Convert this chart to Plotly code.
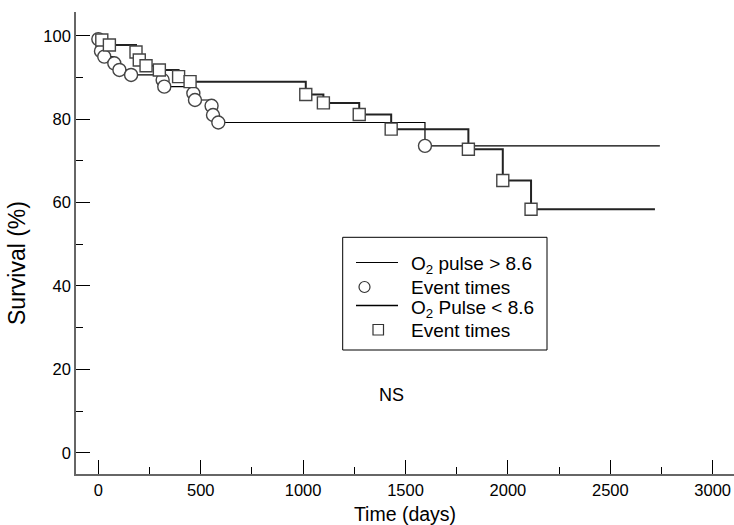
import plotly.graph_objects as go

# ---------------- data ----------------
# Group 1: O2 pulse > 8.6  (thin line, circles at event times)
g1_times = [0, 13, 29, 78, 103, 160, 314, 322, 464, 472, 553, 560, 586, 1595]
g1_surv = [99.2, 96.3, 95.0, 93.4, 91.8, 90.6, 89.4, 87.8, 86.2, 84.6, 83.2, 81.0, 79.2, 73.6]
g1_end = 2742

# Group 2: O2 pulse < 8.6  (thicker line, squares at event times)
g2_times = [17, 54, 184, 200, 233, 298, 392, 448, 1013, 1099, 1274, 1430, 1807, 1975, 2113]
g2_surv = [99.0, 97.8, 96.1, 94.2, 92.8, 91.8, 90.2, 89.0, 85.9, 83.9, 81.1, 77.6, 72.8, 65.3, 58.4]
g2_end = 2718

start_time = 0
start_surv = 100

legend_labels = ["O<sub>2</sub> pulse &gt; 8.6", "Event times",
                 "O<sub>2</sub> Pulse &lt; 8.6", "Event times"]
x_title = "Time (days)"
y_title = "Survival (%)"
note_text = "NS"
note_x, note_y = 1433, 13.8

# ---------------- layout geometry ----------------
W, H = 734, 525
ML, MR, MT, MB = 76, 0, 12, 51
PW, PH = W - ML - MR, H - MT - MB


def px(xp):
    return (xp - ML) / PW


def py(yp):
    return (H - MB - yp) / PH


TICK_FONT = dict(family="Liberation Sans, Arial, sans-serif", size=16.5, color="black")
TEXT_FONT = "Liberation Sans, Arial, sans-serif"

fig = go.Figure()

fig.add_trace(go.Scatter(
    x=[start_time] + g1_times + [g1_end],
    y=[start_surv] + g1_surv + [g1_surv[-1]],
    mode="lines", line=dict(shape="hv", color="black", width=1.2),
    showlegend=False, hoverinfo="skip"))
fig.add_trace(go.Scatter(
    x=[start_time] + g2_times + [g2_end],
    y=[start_surv] + g2_surv + [g2_surv[-1]],
    mode="lines", line=dict(shape="hv", color="#222222", width=2),
    showlegend=False, hoverinfo="skip"))
fig.add_trace(go.Scatter(
    x=g1_times, y=g1_surv, mode="markers",
    marker=dict(symbol="circle", size=13, color="white",
                line=dict(color="#444444", width=1.4)),
    showlegend=False))
fig.add_trace(go.Scatter(
    x=g2_times, y=g2_surv, mode="markers",
    marker=dict(symbol="square", size=12, color="white",
                line=dict(color="#444444", width=1.4)),
    showlegend=False))

# ---------------- legend (drawn) ----------------
shapes = []
shapes.append(dict(type="rect", xref="paper", yref="paper",
                   x0=px(342.7), x1=px(547), y0=py(350), y1=py(237.3),
                   line=dict(color="black", width=1), fillcolor="white", layer="above"))
shapes.append(dict(type="line", xref="paper", yref="paper",
                   x0=px(356), x1=px(398), y0=py(262.5), y1=py(262.5),
                   line=dict(color="black", width=1)))
shapes.append(dict(type="line", xref="paper", yref="paper",
                   x0=px(356), x1=px(398), y0=py(305.5), y1=py(305.5),
                   line=dict(color="black", width=1.3)))
shapes.append(dict(type="circle", xref="paper", yref="paper",
                   x0=px(359), x1=px(370), y0=py(292.5), y1=py(281.5),
                   line=dict(color="#333333", width=1.2), fillcolor="white"))
shapes.append(dict(type="rect", xref="paper", yref="paper",
                   x0=px(373), x1=px(383.5), y0=py(335), y1=py(324.5),
                   line=dict(color="#333333", width=1.2), fillcolor="white"))

annotations = []
row_y = [265, 287, 308.5, 330]
for lab, ry in zip(legend_labels, row_y):
    annotations.append(dict(text=lab, xref="paper", yref="paper",
                            x=px(409), y=py(ry), xanchor="left", yanchor="middle",
                            showarrow=False,
                            font=dict(family=TEXT_FONT, size=19, color="black")))
annotations.append(dict(text=note_text, x=note_x, y=note_y, xref="x", yref="y",
                        showarrow=False,
                        font=dict(family=TEXT_FONT, size=18, color="black")))
# y-axis title, placed where the reference shows it
annotations.append(dict(text=y_title, xref="paper", yref="paper",
                        x=px(17), y=py(263), xanchor="center", yanchor="middle",
                        textangle=-90, showarrow=False,
                        font=dict(family=TEXT_FONT, size=23, color="black")))

fig.update_layout(
    width=W, height=H,
    margin=dict(l=ML, r=MR, t=MT, b=MB, pad=0),
    paper_bgcolor="white", plot_bgcolor="white",
    shapes=shapes, annotations=annotations,
    showlegend=False,
    xaxis=dict(
        range=[-109, 3104], tick0=0, dtick=500,
        ticks="inside", ticklen=14, tickwidth=1.3, tickcolor="black",
        minor=dict(dtick=250, tick0=0, ticks="inside", ticklen=7,
                   tickwidth=1.1, tickcolor="black", showgrid=False),
        showline=True, linecolor="#666666", linewidth=1.6,
        showgrid=False, zeroline=False,
        tickfont=TICK_FONT,
        title=dict(text=x_title, standoff=11,
                   font=dict(family=TEXT_FONT, size=19.5, color="black")),
    ),
    yaxis=dict(
        range=[-5.1, 105.7], tick0=0, dtick=20,
        ticks="inside", ticklen=14, tickwidth=1.3, tickcolor="black",
        minor=dict(dtick=10, tick0=0, ticks="inside", ticklen=7,
                   tickwidth=1.1, tickcolor="black", showgrid=False),
        showline=True, linecolor="#666666", linewidth=1.6,
        showgrid=False, zeroline=False,
        tickfont=TICK_FONT,
    ),
)

fig.write_html("out.html",
               config={"displayModeBar": False},
               post_script="document.body.style.margin='0';document.body.style.overflow='hidden';")
